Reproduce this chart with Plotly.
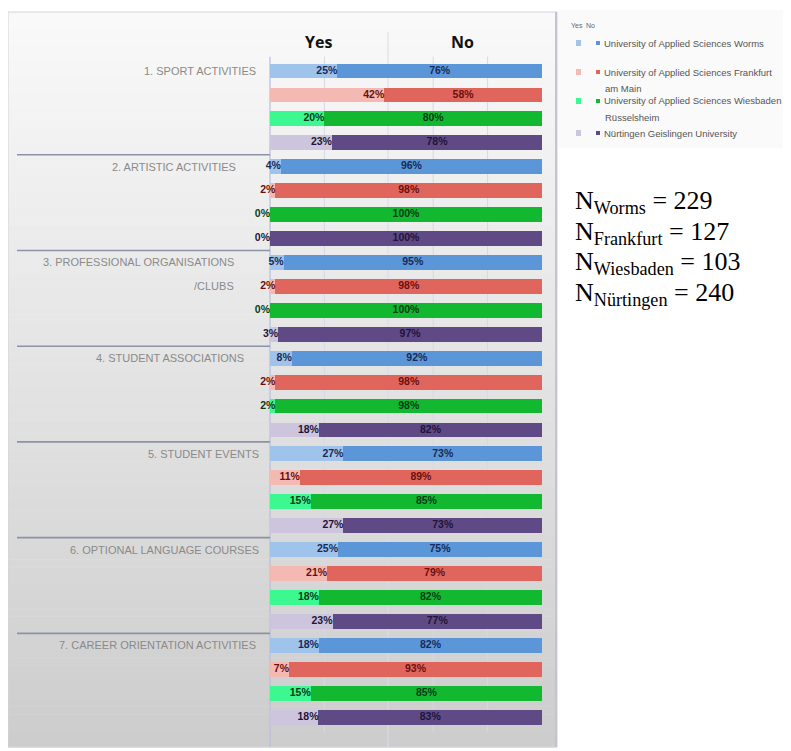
import plotly.graph_objects as go

# ---------------- data ----------------
universities = [
    "University of Applied Sciences Worms",
    "University of Applied Sciences Frankfurt am Main",
    "University of Applied Sciences Wiesbaden Rüsselsheim",
    "Nürtingen Geislingen University",
]
short_names = ["Worms", "Frankfurt", "Wiesbaden", "Nürtingen"]
sample_sizes = [229, 127, 103, 240]

categories = [
    "1. SPORT ACTIVITIES",
    "2. ARTISTIC ACTIVITIES",
    "3. PROFESSIONAL ORGANISATIONS|/CLUBS",
    "4. STUDENT ASSOCIATIONS",
    "5. STUDENT EVENTS",
    "6. OPTIONAL LANGUAGE COURSES",
    "7. CAREER ORIENTATION ACTIVITIES",
]

yes_worms = [25, 4, 5, 8, 27, 25, 18]
no_worms = [76, 96, 95, 92, 73, 75, 82]
yes_frankfurt = [42, 2, 2, 2, 11, 21, 7]
no_frankfurt = [58, 98, 98, 98, 89, 79, 93]
yes_wiesbaden = [20, 0, 0, 2, 15, 18, 15]
no_wiesbaden = [80, 100, 100, 98, 85, 82, 85]
yes_nurtingen = [23, 0, 3, 18, 27, 23, 18]
no_nurtingen = [78, 100, 97, 82, 73, 77, 83]

yes_values = [yes_worms, yes_frankfurt, yes_wiesbaden, yes_nurtingen]
no_values = [no_worms, no_frankfurt, no_wiesbaden, no_nurtingen]

# ---------------- style ----------------
yes_colors = ["#9fc3ea", "#f4b9b2", "#3cf890", "#cdc5dd"]
no_colors = ["#5b97d8", "#e0665d", "#12b930", "#5f4a86"]
label_colors = ["#172a5a", "#6a1010", "#083c16", "#1e1438"]
label_right_px = [258, 238, 236, 246, 261, 261, 258]

# page has an 8px body margin: figure is drawn from screen px 8
OFF = 8
W, H = 791 - OFF, 751 - OFF
BOX_L, BOX_R, BOX_T, BOX_B = 8, 557, 12, 747
X0_PX, X100_PX = 270, 542
ROW0_PX, ROW_PX = 71, 23.93
PXU = (X100_PX - X0_PX) / 100.0


def px_x(p):
    return min(1.0, max(0.0, (p - OFF) / W))


def px_y(p):
    return min(1.0, max(0.0, 1 - (p - OFF) / H))


def dx(p):
    return (p - X0_PX) / PXU


n_uni = len(universities)
n_rows = len(categories) * n_uni


def lab_font(u):
    return dict(family="Liberation Sans", size=10.5, color=label_colors[u], weight="bold")


fig = go.Figure()

# bars
for u in range(n_uni):
    rows = [c * n_uni + u for c in range(len(categories))]
    tot = [y + n for y, n in zip(yes_values[u], no_values[u])]
    yes_norm = [100.0 * y / t for y, t in zip(yes_values[u], tot)]
    no_norm = [100.0 * n / t for n, t in zip(no_values[u], tot)]
    fig.add_trace(go.Bar(
        y=rows, x=yes_norm, orientation="h", width=0.62,
        marker=dict(color=yes_colors[u], line=dict(width=0)),
        name="Yes " + short_names[u], showlegend=False, hoverinfo="skip",
    ))
    fig.add_trace(go.Bar(
        y=rows, x=no_norm, orientation="h", width=0.62,
        marker=dict(color=no_colors[u], line=dict(width=0)),
        name="No " + short_names[u], showlegend=False, hoverinfo="skip",
    ))
    # "Yes" labels at the end of the Yes segment
    fig.add_trace(go.Scatter(
        y=rows, x=yes_norm, mode="text",
        text=[f"{v}%" for v in yes_values[u]], textposition="middle left",
        textfont=lab_font(u), showlegend=False, hoverinfo="skip", cliponaxis=False,
    ))
    # "No" labels centred in the No segment
    fig.add_trace(go.Scatter(
        y=rows, x=[a + b / 2.0 for a, b in zip(yes_norm, no_norm)], mode="text",
        text=[f"{v}%" for v in no_values[u]], textposition="middle center",
        textfont=lab_font(u), showlegend=False, hoverinfo="skip", cliponaxis=False,
    ))

shapes = []
# gradient background of chart box
nb = 90
c_top = (249, 249, 249)
c_bot = (205, 205, 205)
for i in range(nb):
    t = i / (nb - 1)
    col = tuple(int(round(a + (b - a) * t)) for a, b in zip(c_top, c_bot))
    y1 = BOX_T + (BOX_B - BOX_T) * i / nb
    y2 = BOX_T + (BOX_B - BOX_T) * (i + 1) / nb + 0.5
    shapes.append(dict(type="rect", xref="paper", yref="paper",
                       x0=px_x(BOX_L), x1=px_x(BOX_R), y0=px_y(y2), y1=px_y(y1),
                       fillcolor="rgb(%d,%d,%d)" % col, line=dict(width=0), layer="below"))
# box edges
shapes.append(dict(type="rect", xref="paper", yref="paper",
                   x0=px_x(BOX_L), x1=px_x(BOX_R), y0=px_y(BOX_B), y1=px_y(BOX_T),
                   line=dict(color="#d4d4dc", width=1), fillcolor="rgba(0,0,0,0)", layer="below"))
shapes.append(dict(type="line", xref="paper", yref="paper",
                   x0=px_x(BOX_R - 1), x1=px_x(BOX_R - 1), y0=px_y(BOX_B), y1=px_y(BOX_T),
                   line=dict(color="#c4c4d0", width=2), layer="below"))
# legend background
shapes.append(dict(type="rect", xref="paper", yref="paper",
                   x0=px_x(BOX_R + 1), x1=1, y0=px_y(148), y1=px_y(10),
                   fillcolor="#fafafa", line=dict(width=0), layer="below"))

# vertical grid lines
for gx in (20, 60, 80):
    shapes.append(dict(type="line", xref="x", yref="y", x0=gx, x1=gx, y0=-0.6, y1=n_rows - 0.4,
                       line=dict(color="#d6d8e6", width=1), layer="below"))
shapes.append(dict(type="line", xref="x", yref="paper", x0=43.4, x1=43.4,
                   y0=px_y(BOX_B), y1=px_y(BOX_T + 20),
                   line=dict(color="#dcdce4", width=1), layer="below"))
shapes.append(dict(type="line", xref="x", yref="y", x0=0, x1=0, y0=-0.6, y1=n_rows + 0.3,
                   line=dict(color="#b8bedc", width=1.2), layer="below"))

# group separators
for c in range(1, len(categories)):
    yy = c * n_uni - 0.5
    shapes.append(dict(type="line", xref="x", yref="y", x0=dx(17), x1=0, y0=yy, y1=yy,
                       line=dict(color="#8c93a6", width=1.6), layer="below"))

annotations = []
# category labels
for c, cat in enumerate(categories):
    for k, part in enumerate(cat.split("|")):
        annotations.append(dict(
            x=dx(label_right_px[c]), y=c * n_uni + k, xref="x", yref="y",
            text=part, showarrow=False, xanchor="right", yanchor="middle",
            font=dict(family="Liberation Sans", size=11, color="#8a8a8a")))

# Yes / No headers
for txt, xp in (("Yes", 318), ("No", 462)):
    annotations.append(dict(x=dx(xp), y=px_y(42), xref="x", yref="paper", text=f"<b>{txt}</b>",
                            showarrow=False, xanchor="center", yanchor="middle",
                            font=dict(family="Open Sans", size=16, color="#111111")))

# custom legend
leg_font = dict(family="Liberation Sans", size=9.5, color="#555555")
annotations.append(dict(x=px_x(569), y=px_y(25), xref="paper", yref="paper", text="Yes",
                        showarrow=False, xanchor="left", yanchor="middle",
                        font=dict(family="Liberation Sans", size=7, color="#666666")))
annotations.append(dict(x=px_x(584), y=px_y(25), xref="paper", yref="paper", text="No",
                        showarrow=False, xanchor="left", yanchor="middle",
                        font=dict(family="Liberation Sans", size=7, color="#666666")))
legend_rows = [(43, ["University of Applied Sciences Worms"]),
               (72, ["University of Applied Sciences Frankfurt", "am Main"]),
               (101, ["University of Applied Sciences Wiesbaden", "Rüsselsheim"]),
               (133, ["Nürtingen Geislingen University"])]
for u, (ly, lines) in enumerate(legend_rows):
    shapes.append(dict(type="rect", xref="paper", yref="paper",
                       x0=px_x(576), x1=px_x(581), y0=px_y(ly + 3), y1=px_y(ly - 3),
                       fillcolor=yes_colors[u], line=dict(width=0)))
    shapes.append(dict(type="rect", xref="paper", yref="paper",
                       x0=px_x(596), x1=px_x(600), y0=px_y(ly + 2), y1=px_y(ly - 2),
                       fillcolor=no_colors[u], line=dict(width=0)))
    for k, line in enumerate(lines):
        annotations.append(dict(x=px_x(602 if k == 0 else 603), y=px_y(ly + 16 * k),
                                xref="paper", yref="paper",
                                text=line, showarrow=False, xanchor="left", yanchor="middle",
                                font=leg_font))

# sample sizes
for u, (name, n) in enumerate(zip(short_names, sample_sizes)):
    annotations.append(dict(x=px_x(573), y=px_y(202 + 30.7 * u), xref="paper", yref="paper",
                            text=f"N<sub>{name}</sub> = {n}", showarrow=False,
                            xanchor="left", yanchor="middle",
                            font=dict(family="Liberation Serif", size=26, color="#000000")))

fig.update_layout(
    width=W, height=H,
    margin=dict(l=0, r=0, t=0, b=0),
    paper_bgcolor="white", plot_bgcolor="rgba(0,0,0,0)",
    barmode="stack", bargap=0.4,
    showlegend=False,
    shapes=shapes, annotations=annotations,
    xaxis=dict(domain=[px_x(BOX_L), px_x(BOX_R)], range=[dx(BOX_L), dx(BOX_R)],
               showgrid=False, zeroline=False, showticklabels=False, fixedrange=True),
    yaxis=dict(domain=[px_y(BOX_B), px_y(BOX_T)],
               range=[(BOX_B - ROW0_PX) / ROW_PX, (BOX_T - ROW0_PX) / ROW_PX],
               showgrid=False, zeroline=False, showticklabels=False, fixedrange=True),
)

fig.write_html("out.html")
